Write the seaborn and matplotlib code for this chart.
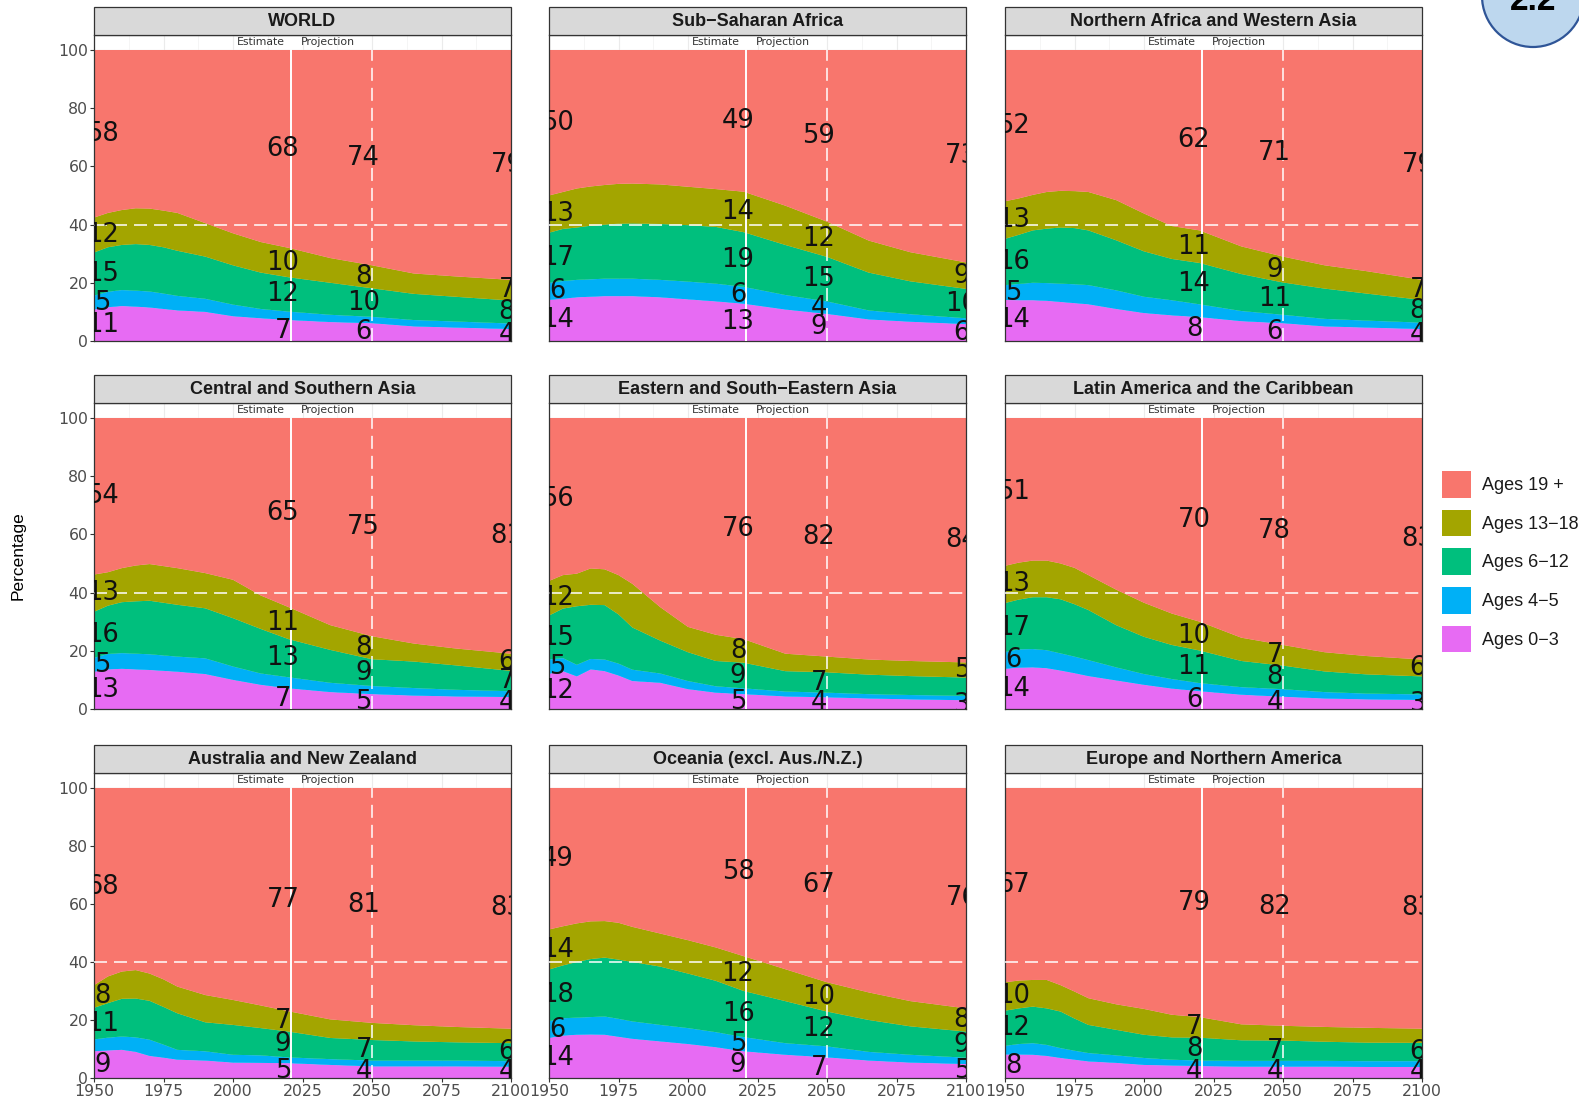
import numpy as np
import pandas as pd
import matplotlib
matplotlib.use("Agg")
import matplotlib.pyplot as plt
from matplotlib.patches import Rectangle, Ellipse, Patch
import seaborn as sns
import seaborn.objects as so

# ---------------------------------------------------------------- data
YEARS = [1950, 1955, 1960, 1965, 1970, 1975, 1980, 1990,
         2000, 2010, 2020, 2035, 2050, 2065, 2080, 2100]

GROUPS = ["Ages 0\u22123", "Ages 4\u22125", "Ages 6\u221212",
          "Ages 13\u221218", "Ages 19 +"]

REGIONS = ["WORLD", "Sub\u2212Saharan Africa", "Northern Africa and Western Asia",
           "Central and Southern Asia", "Eastern and South\u2212Eastern Asia",
           "Latin America and the Caribbean", "Australia and New Zealand",
           "Oceania (excl. Aus./N.Z.)", "Europe and Northern America"]

# Share of population (%) by age group; rows: 0-3, 4-5, 6-12, 13-18.
# The 19+ share is the remainder up to 100 %.
world = [
    [10.8, 11.6, 12.0, 11.8, 11.5, 11.0, 10.5, 10.0, 8.5, 7.8, 7.2, 6.5, 6.1, 5.0, 4.6, 4.1],
    [4.8, 5.3, 5.5, 5.5, 5.5, 5.3, 5.0, 4.5, 4.0, 3.2, 2.9, 2.5, 2.2, 2.2, 2.1, 1.9],
    [14.8, 15.3, 15.5, 16.0, 16.0, 15.9, 15.5, 14.5, 13.5, 12.5, 11.8, 11.0, 9.8, 9.0, 8.5, 7.9],
    [12.0, 11.8, 12.0, 12.3, 12.5, 12.6, 13.0, 11.5, 11.0, 10.5, 10.1, 8.5, 7.9, 7.0, 7.0, 7.1],
]
sub_saharan_africa = [
    [14.1, 14.5, 15.0, 15.2, 15.4, 15.4, 15.4, 15.0, 14.3, 13.6, 12.8, 10.8, 9.3, 7.4, 6.6, 5.8],
    [5.9, 6.1, 6.0, 6.0, 6.0, 6.0, 6.0, 6.0, 6.1, 6.1, 5.8, 5.0, 4.3, 3.1, 2.6, 2.0],
    [17.2, 17.9, 18.0, 18.4, 18.6, 18.9, 19.0, 19.2, 19.4, 19.5, 18.8, 17.2, 15.3, 13.0, 11.3, 10.1],
    [12.8, 12.7, 13.4, 13.5, 13.6, 13.7, 13.7, 13.6, 13.2, 13.0, 13.9, 13.5, 12.1, 11.0, 10.0, 9.1],
]
n_africa_w_asia = [
    [14.1, 14.0, 14.0, 13.8, 13.4, 13.0, 12.6, 11.0, 9.6, 8.8, 8.2, 6.8, 6.1, 5.0, 4.6, 4.1],
    [5.1, 5.6, 6.0, 6.1, 6.3, 6.5, 6.6, 6.4, 5.6, 5.2, 4.4, 3.5, 2.9, 2.6, 2.4, 2.2],
    [15.9, 16.9, 18.0, 18.7, 19.3, 19.3, 18.8, 17.2, 15.6, 14.2, 14.2, 12.7, 11.1, 10.4, 9.3, 7.8],
    [12.9, 12.5, 12.2, 12.6, 12.6, 12.7, 13.2, 13.8, 13.0, 11.3, 11.2, 9.5, 8.9, 8.0, 7.7, 6.9],
]
c_s_asia = [
    [12.8, 13.6, 13.8, 13.6, 13.4, 13.1, 12.8, 12.0, 10.0, 8.3, 7.1, 5.8, 5.1, 4.6, 4.3, 4.1],
    [4.8, 5.3, 5.4, 5.4, 5.4, 5.3, 5.2, 5.4, 4.6, 3.9, 3.8, 3.2, 2.8, 2.6, 2.3, 2.0],
    [15.8, 16.6, 17.5, 18.0, 18.4, 18.1, 17.8, 17.2, 16.6, 15.3, 13.1, 11.3, 9.2, 9.1, 8.4, 7.0],
    [12.8, 11.5, 11.7, 12.3, 12.6, 12.6, 12.6, 12.1, 13.2, 11.5, 11.0, 8.5, 7.9, 6.2, 5.8, 5.9],
]
e_se_asia = [
    [12.1, 13.0, 11.2, 13.6, 13.0, 11.5, 9.6, 9.0, 6.8, 5.6, 5.1, 4.3, 4.0, 3.6, 3.3, 3.0],
    [4.9, 4.5, 4.0, 3.6, 4.0, 4.1, 3.9, 3.2, 2.8, 2.2, 2.0, 1.7, 1.6, 1.5, 1.5, 1.5],
    [15.1, 17.0, 20.1, 18.6, 18.7, 16.9, 14.5, 11.3, 9.9, 8.7, 8.8, 7.0, 7.0, 6.7, 6.5, 6.3],
    [11.9, 11.5, 11.2, 12.5, 12.3, 13.5, 15.0, 11.5, 8.7, 9.0, 8.1, 6.0, 5.4, 5.2, 5.2, 5.2],
]
latin_america = [
    [13.8, 14.2, 14.3, 14.0, 13.2, 12.3, 11.3, 9.8, 8.3, 7.0, 6.1, 4.9, 4.2, 3.6, 3.3, 3.1],
    [5.8, 6.3, 6.3, 6.2, 5.9, 5.7, 5.5, 4.5, 3.7, 3.3, 2.8, 2.6, 2.6, 2.2, 2.0, 1.9],
    [16.8, 17.1, 17.8, 18.2, 18.6, 18.0, 17.2, 14.5, 12.8, 11.7, 11.2, 9.0, 8.1, 7.1, 6.6, 6.2],
    [12.8, 12.7, 12.6, 12.6, 12.3, 12.5, 12.0, 12.2, 11.7, 10.8, 9.9, 8.0, 7.1, 6.6, 6.3, 5.8],
]
australia_nz = [
    [9.2, 9.5, 9.7, 9.0, 7.6, 7.0, 6.3, 6.0, 5.3, 5.2, 5.1, 4.5, 4.0, 4.0, 4.0, 3.9],
    [4.1, 4.4, 4.6, 5.0, 5.6, 4.5, 3.4, 3.2, 2.7, 2.6, 2.0, 2.0, 2.0, 2.0, 2.0, 1.9],
    [10.9, 11.9, 13.0, 13.4, 13.4, 13.0, 12.6, 10.0, 10.3, 9.4, 8.9, 7.3, 7.1, 6.6, 6.3, 6.2],
    [7.8, 9.2, 9.4, 9.8, 9.4, 9.5, 9.2, 9.4, 8.6, 7.8, 7.0, 6.4, 5.9, 5.6, 5.3, 5.0],
]
oceania_other = [
    [13.8, 14.6, 14.9, 15.0, 14.9, 14.2, 13.5, 12.6, 11.7, 10.6, 9.2, 8.0, 7.1, 6.0, 5.3, 4.8],
    [5.8, 6.0, 5.9, 6.0, 6.3, 6.2, 6.0, 5.7, 5.5, 5.2, 4.9, 4.0, 3.8, 3.0, 2.7, 2.2],
    [17.8, 18.2, 19.2, 20.0, 20.3, 20.4, 20.5, 20.1, 18.8, 17.7, 15.9, 14.5, 12.0, 11.0, 9.8, 9.0],
    [13.8, 13.5, 13.3, 13.0, 12.6, 12.7, 12.1, 11.4, 11.5, 11.5, 12.0, 11.0, 10.1, 9.5, 8.7, 8.0],
]
europe_n_america = [
    [8.1, 8.1, 8.0, 7.6, 6.9, 6.3, 5.7, 5.2, 4.5, 4.3, 4.1, 3.9, 3.9, 3.9, 3.8, 3.8],
    [3.0, 3.6, 4.0, 3.8, 3.4, 3.1, 2.9, 2.6, 2.4, 2.0, 1.9, 2.0, 2.0, 2.0, 2.0, 2.0],
    [12.1, 12.3, 12.6, 12.6, 12.6, 11.1, 9.7, 8.8, 8.0, 7.7, 7.9, 7.1, 7.0, 6.6, 6.4, 6.3],
    [9.8, 9.6, 9.2, 9.8, 9.1, 9.3, 9.2, 8.8, 8.9, 7.8, 7.1, 5.5, 5.1, 5.1, 5.1, 4.9],
]

REGION_DATA = [world, sub_saharan_africa, n_africa_w_asia, c_s_asia, e_se_asia,
               latin_america, australia_nz, oceania_other, europe_n_america]

# Years whose shares are written on the panels
LABEL_YEARS = [1950, 2020, 2050, 2100]

# (year, group index) pairs left unlabelled because the band is too thin
UNLABELLED = {
    "WORLD": [(2020, 1), (2050, 1), (2100, 1)],
    "Sub\u2212Saharan Africa": [(2100, 1)],
    "Northern Africa and Western Asia": [(2020, 1), (2050, 1), (2100, 1)],
    "Central and Southern Asia": [(2020, 1), (2050, 1), (2100, 1)],
    "Eastern and South\u2212Eastern Asia": [(2020, 1), (2050, 1), (2050, 3), (2100, 1), (2100, 2)],
    "Latin America and the Caribbean": [(2020, 1), (2050, 1), (2100, 1), (2100, 2)],
    "Australia and New Zealand": [(1950, 1), (2020, 1), (2050, 1), (2050, 3), (2100, 1), (2100, 3)],
    "Oceania (excl. Aus./N.Z.)": [(2050, 1), (2100, 1)],
    "Europe and Northern America": [(1950, 1), (2020, 1), (2050, 1), (2050, 3), (2100, 1), (2100, 3)],
}

COLORS = {
    "Ages 0\u22123": "#E76BF3",
    "Ages 4\u22125": "#00B0F6",
    "Ages 6\u221212": "#00BF7D",
    "Ages 13\u221218": "#A3A500",
    "Ages 19 +": "#F8766D",
}

# ---------------------------------------------------------------- style
sns.set_theme(style="white")
plt.rcParams["font.family"] = ["Liberation Sans", "DejaVu Sans"]
WIDE = ["DejaVu Sans"]

W, H = 1579, 1106
fig = plt.figure(figsize=(W / 100, H / 100), dpi=100)

COL_LEFT = [94, 549, 1005]
ROW_TOP = [35, 403, 773]
ROW_BOTTOM = [341, 709, 1078]
PANEL_W = 417
STRIP_H = 28
YMAX = 105.15
LABEL_X = [1953, 2018, 2047, 2098.5]
DASH = (0, (8.5, 4.6))


def region_frame(rows):
    young = np.array(rows, dtype=float)
    values = np.vstack([young, 100.0 - young.sum(axis=0)])
    recs = []
    for gi, g in enumerate(GROUPS):
        for yi, yr in enumerate(YEARS):
            recs.append((yr, g, values[gi, yi]))
    return pd.DataFrame(recs, columns=["year", "group", "pct"]), values


def r_round(v):
    return int(np.floor(v + 0.5))


for i, (name, rows) in enumerate(zip(REGIONS, REGION_DATA)):
    r, c = divmod(i, 3)
    ph = ROW_BOTTOM[r] - ROW_TOP[r]
    ax = fig.add_axes([COL_LEFT[c] / W, 1 - ROW_BOTTOM[r] / H, PANEL_W / W, ph / H])
    df, values = region_frame(rows)

    (
        so.Plot(df, x="year", y="pct", color="group")
        .add(so.Area(alpha=1, edgewidth=0.4), so.Stack(), legend=False)
        .scale(color=so.Nominal(COLORS, order=GROUPS))
        .label(x="", y="")
        .on(ax)
        .plot()
    )

    ax.set_facecolor("white")
    ax.set_xlim(1950, 2100)
    ax.set_ylim(0, YMAX)
    ax.set_xticks(np.arange(1950, 2101, 25))
    ax.set_xticks(np.arange(1962.5, 2100, 25), minor=True)
    ax.set_yticks(np.arange(0, 101, 20))
    ax.set_yticks(np.arange(10, 100, 20), minor=True)
    ax.set_xlabel("")
    ax.set_ylabel("")
    ax.set_axisbelow(True)
    ax.grid(True, which="major", color="#ebebeb", lw=0.8)
    ax.grid(True, which="minor", color="#f2f2f2", lw=0.5)
    for sp in ax.spines.values():
        sp.set_visible(True)
        sp.set_color("#333333")
        sp.set_linewidth(0.9)
    ax.tick_params(which="minor", length=0)
    ax.tick_params(which="major", direction="out", length=2.6, width=0.8,
                   color="#333333", labelsize=11.3, labelcolor="#4d4d4d", pad=1.5)
    ax.tick_params(axis="x", bottom=(r == 2), labelbottom=(r == 2))
    ax.tick_params(axis="y", left=(c == 0), labelleft=(c == 0))
    for t in ax.get_xticklabels() + ax.get_yticklabels():
        t.set_family(WIDE)

    # reference lines
    ax.axhline(40, color="white", lw=1.1, ls=DASH, zorder=3)
    ax.axvline(2050, ymax=100 / YMAX, color="white", lw=1.1, ls=DASH, zorder=3)
    ax.axvline(2021, ymax=100 / YMAX, color="white", lw=1.4, zorder=3)
    ax.text(2018.5, 102.9, "Estimate", ha="right", va="center", family=WIDE,
            fontsize=7.8, color="#333333")
    ax.text(2024.5, 102.9, "Projection", ha="left", va="center", family=WIDE,
            fontsize=7.8, color="#333333")

    # value labels at the band centres
    hidden = set(UNLABELLED.get(name, []))
    for lx, yr in zip(LABEL_X, LABEL_YEARS):
        col = values[:, YEARS.index(yr)]
        tops = np.cumsum(col)
        bottoms = tops - col
        for gi in range(len(GROUPS)):
            if (yr, gi) in hidden:
                continue
            ax.text(lx, (tops[gi] + bottoms[gi]) / 2, str(r_round(col[gi])),
                    ha="center", va="center", fontsize=18.5, family=WIDE,
                    color="#111111", clip_on=True, zorder=4)

    # facet strip
    sh = STRIP_H / ph
    ax.add_patch(Rectangle((0, 1), 1, sh, transform=ax.transAxes, clip_on=False,
                           facecolor="#d9d9d9", edgecolor="#333333", lw=0.9, zorder=5))
    ax.text(0.5, 1 + sh / 2, name, transform=ax.transAxes, ha="center", va="center",
            fontsize=13, fontweight="bold", color="#1a1a1a", zorder=6)

fig.text(18 / W, 1 - 556 / H, "Percentage", rotation=90, ha="center", va="center",
         fontsize=12.5, color="black")

handles = [Patch(facecolor=COLORS[g], edgecolor="none", label=g) for g in GROUPS[::-1]]
fig.legend(handles=handles, loc="upper left", bbox_to_anchor=(1442 / W, 1 - 471 / H),
           frameon=False, borderpad=0, borderaxespad=0, handlelength=1.6,
           handleheight=1.9, labelspacing=0.66, handletextpad=0.6, fontsize=13,
           labelcolor="#1a1a1a")

# section badge
fig.add_artist(Ellipse((1533 / W, 1 + 4 / H), 2 * 51 / W, 2 * 51 / H,
                       transform=fig.transFigure, facecolor="#bdd7ee",
                       edgecolor="#2f5597", lw=1.6, zorder=10))
fig.text(1533 / W, 1 - 10 / H, "2.2", ha="center", va="baseline", fontsize=24,
         fontweight="bold", color="black", zorder=11)

fig.savefig("out.png", dpi=100)
